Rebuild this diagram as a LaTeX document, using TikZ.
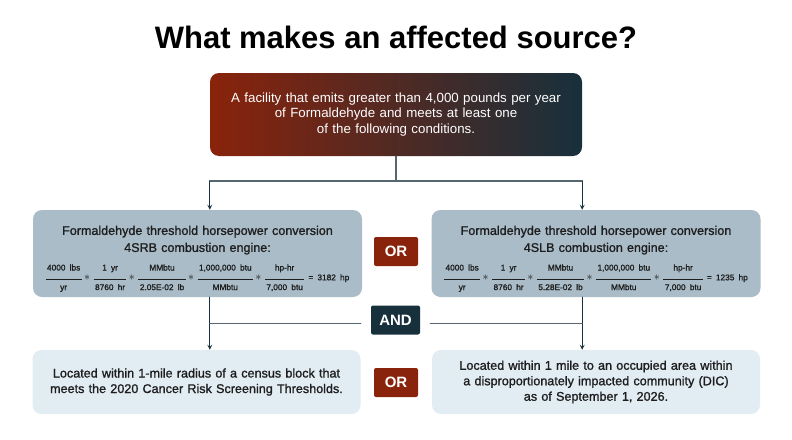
\documentclass[tikz,border=0pt]{standalone}
\usepackage{fontspec}
\setmainfont{Liberation Sans}
\newfontfamily\medfont{Liberation Sans}[FakeBold=1.2]
\definecolor{rust}{HTML}{8A230B}
\definecolor{ink}{HTML}{17303C}
\definecolor{steel}{HTML}{A9BCC8}
\definecolor{mist}{HTML}{E2ECF3}
\definecolor{wire}{HTML}{56666F}
\definecolor{body}{HTML}{1E1E1E}
\setlength{\arrayrulewidth}{0.6pt}
\newcommand\hpfrac[2]{\begin{tabular}{@{\,}c@{\,}}#1\\[5pt]\hline\rule{0pt}{11pt}#2\end{tabular}}
\newcommand\hptimes{\hspace{2.5pt}{\fontsize{12}{12}\selectfont$*$}\hspace{3.5pt}}
\begin{document}
\begin{tikzpicture}[x=1pt, y=-1pt, line join=round, line cap=round, >=stealth,
  titletext/.style={text=black, font=\fontsize{31}{32}\selectfont\bfseries},
  headbox/.style={rounded corners=9pt, left color=rust, right color=ink, text=white, text width=372pt, minimum height=83pt, inner sep=0pt, align=center, font=\fontsize{13.3}{15.5}\selectfont},
  hpbox/.style={rounded corners=9pt, fill=steel, text=body, text width=329pt, minimum height=87pt, inner sep=0pt, align=center, font=\medfont\fontsize{12.55}{17}\selectfont},
  sitebox/.style={rounded corners=9pt, fill=mist, text=body, text width=328pt, minimum height=64pt, inner sep=0pt, align=center, font=\medfont\fontsize{12.6}{15.5}\selectfont},
  orbox/.style={rounded corners=2pt, fill=rust, text=white, minimum width=44pt, minimum height=29pt, inner sep=0pt, font=\fontsize{15}{15}\selectfont\bfseries},
  andbox/.style={orbox, fill=ink, minimum width=49pt},
  link/.style={draw=wire, line width=1.2pt},
  feed/.style={->, draw=ink, line width=1.2pt}]
\useasboundingbox (0,0) rectangle (792,439);
\node[titletext] (title) at (396,37) {What makes an affected source?};
\node[headbox] (head) at (396,114.5) {A facility that emits greater than 4,000 pounds per year\\of Formaldehyde and meets at least one\\of the following conditions.};
\node[hpbox] (srb) at (197.5,253.5) {\rule{0pt}{21pt}Formaldehyde threshold horsepower conversion\\4SRB combustion engine:\par\vspace{8pt}
  {\fontsize{8.3}{10}\selectfont\hpfrac{4000 lbs}{yr}\hptimes\hpfrac{1 yr}{8760 hr}\hptimes\hpfrac{MMbtu}{2.05E-02 lb}\hptimes\hpfrac{1,000,000 btu}{MMbtu}\hptimes\hpfrac{hp-hr}{7,000 btu} = 3182 hp\par}};
\node[hpbox] (slb) at (596,253.5) {\rule{0pt}{21pt}Formaldehyde threshold horsepower conversion\\4SLB combustion engine:\par\vspace{8pt}
  {\fontsize{8.3}{10}\selectfont\hpfrac{4000 lbs}{yr}\hptimes\hpfrac{1 yr}{8760 hr}\hptimes\hpfrac{MMbtu}{5.28E-02 lb}\hptimes\hpfrac{1,000,000 btu}{MMbtu}\hptimes\hpfrac{hp-hr}{7,000 btu} = 1235 hp\par}};
\node[orbox] (or1) at (396,251.5) {OR};
\node[andbox] (and) at (395.5,320) {AND};
\node[sitebox] (mile) at (196.5,382) {Located within 1-mile radius of a census block that\\meets the 2020 Cancer Risk Screening Thresholds.};
\node[sitebox] (dic) at (596,382) {Located within 1 mile to an occupied area within\\a disproportionately impacted community (DIC)\\as of September 1, 2026.};
\node[orbox] (or2) at (396,382.5) {OR};
\coordinate (forkrow) at (0,181);
\coordinate (joinrow) at (0,323.5);
\draw[link] (head.south) -- (head.south |- forkrow);
\draw[link] (head.south west |- forkrow) -- (head.south east |- forkrow);
\draw[feed] (head.south west |- forkrow) -- (head.south west |- srb.north);
\draw[feed] (head.south east |- forkrow) -- (head.south east |- slb.north);
\draw[feed] (head.south west |- srb.south) -- (head.south west |- mile.north);
\draw[feed] (head.south east |- slb.south) -- (head.south east |- dic.north);
\draw[link, shorten >=10pt] (head.south west |- joinrow) -- (and.west |- joinrow);
\draw[link, shorten >=10pt] (head.south east |- joinrow) -- (and.east |- joinrow);
\end{tikzpicture}
\end{document}
